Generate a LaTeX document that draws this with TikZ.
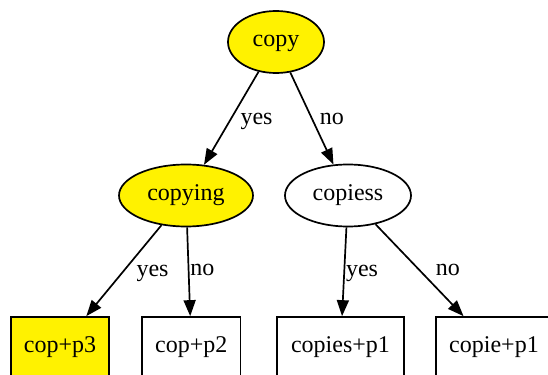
\documentclass[tikz,border=0pt]{standalone}
\usepackage{fontspec}
\setmainfont{Liberation Serif}
\usetikzlibrary{shapes.geometric,arrows.meta}

\begin{document}
\begin{tikzpicture}[x=0.5pt,y=-0.5pt,line width=0.85pt,
  every node/.style={font=\fontsize{12}{14}\selectfont,text height=0.7em,text depth=0.25em},
  oval/.style={ellipse,draw,inner sep=0pt,minimum height=31pt},
  leaf/.style={rectangle,draw,inner sep=0pt,minimum height=31pt},
  hit/.style={fill=yellow},
  edge/.style={-{Triangle[length=8pt,width=6pt]}},
  lbl/.style={inner sep=0pt}]
\useasboundingbox (0,0) rectangle (548,375);
\node[oval,hit,minimum width=48pt] (copy) at (276,42) {copy};
\node[oval,hit,minimum width=67pt] (copying) at (186,195.5) {copying};
\node[oval,minimum width=63pt] (copiess) at (348,195.5) {copiess};
\node[leaf,hit,minimum width=49.3pt] (p3) at (60,348) {cop+p3};
\node[leaf,minimum width=49.3pt] (p2) at (191.3,348) {cop+p2};
\node[leaf,minimum width=63.5pt] (copiesp1) at (340.5,348) {copies+p1};
\node[leaf,minimum width=58pt] (copiep1) at (494,348) {copie+p1};
\draw[edge] (copy) -- (copying) node[lbl] (l1) at (256.5,120) {yes};
\draw[edge] (copy) -- (copiess) node[lbl] (l2) at (332,120) {no};
\draw[edge] (copying) -- (p3) node[lbl] (l3) at (152.5,272) {yes};
\draw[edge] (copying) -- (p2) node[lbl] (l4) at (202.5,271.5) {no};
\draw[edge] (copiess) -- (copiesp1) node[lbl] (l5) at (362,272) {yes};
\draw[edge] (copiess) -- (copiep1) node[lbl] (l6) at (448,271.5) {no};
\end{tikzpicture}
\end{document}
